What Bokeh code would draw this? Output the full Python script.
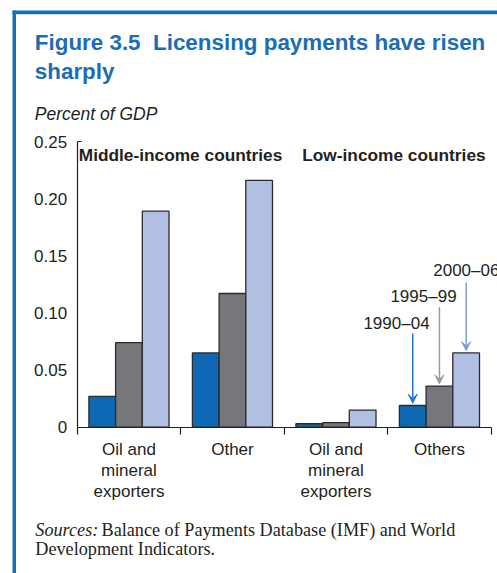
from bokeh.plotting import figure
from bokeh.models import (Range1d, FixedTicker, Label, Arrow, VeeHead, BoxAnnotation, LinearAxis)
from bokeh.embed import file_html
from bokeh.resources import INLINE

# ---- data ----
categories = ["Oil and\nmineral\nexporters", "Other", "Oil and\nmineral\nexporters", "Others"]
periods = ["1990\u201304", "1995\u201399", "2000\u201306"]
v1990 = [0.027, 0.065, 0.003, 0.019]
v1995 = [0.074, 0.117, 0.004, 0.036]
v2000 = [0.189, 0.216, 0.015, 0.065]
y_ticks = [0, 0.05, 0.10, 0.15, 0.20, 0.25]
y_tick_labels = ["0", "0.05", "0.10", "0.15", "0.20", "0.25"]
groups = ["Middle-income countries", "Low-income countries"]

colors = ["#0e68b3", "#76777b", "#b0bfe2"]
arrow_colors = ["#1f78c9", "#9b9b9b", "#7d9dd6"]
TITLE_BLUE = "#1b6db6"
TEXT = "#231f20"
SANS = "Liberation Sans"
SERIF = "Liberation Serif"

# ---- layout (pixels) ----
W, H = 497, 573
AX_LEFT, AX_RIGHT = 76.7, 490.7      # x = 0 and x = 4
AX_ZERO, AX_TOP = 426.7, 141.0       # y = 0 and y = 0.25
ppx = (AX_RIGHT - AX_LEFT) / len(categories)
ppy = (AX_ZERO - AX_TOP) / y_ticks[-1]

p = figure(width=W, height=H, output_backend="svg", toolbar_location=None,
           x_range=Range1d(-AX_LEFT / ppx, (W - AX_LEFT) / ppx),
           y_range=Range1d((AX_ZERO - H) / ppy, AX_ZERO / ppy),
           x_axis_location=None, y_axis_location=None,
           min_border=0)
p.outline_line_color = None
p.grid.visible = False

bw = 0.258
offsets = [-bw, 0.0, bw]
series = [v1990, v1995, v2000]
for k, vals in enumerate(series):
    xs = [i + 0.5 + offsets[k] for i in range(len(categories))]
    p.vbar(x=xs, top=vals, bottom=0, width=bw, fill_color=colors[k],
           line_color="#2b2b2b", line_width=1.3)

# y axis
ya = LinearAxis(fixed_location=0, bounds=(0, y_ticks[-1]),
                ticker=FixedTicker(ticks=y_ticks, minor_ticks=[y_ticks[-1]]))
ya.major_label_overrides = {t: l for t, l in zip(y_ticks, y_tick_labels)}
ya.major_tick_out = 0
ya.major_tick_in = 0
ya.minor_tick_out = 0
ya.minor_tick_in = 4
ya.minor_tick_line_color = TEXT
ya.minor_tick_line_width = 1.2
ya.axis_line_color = TEXT
ya.axis_line_width = 1.2
ya.major_label_text_font = SANS
ya.major_label_text_font_size = "17px"
ya.major_label_text_color = TEXT
ya.major_label_standoff = 10
p.add_layout(ya, "left")

# x axis
centers = [i + 0.5 for i in range(len(categories))]
xa = LinearAxis(fixed_location=0, bounds=(0, len(categories)),
                ticker=FixedTicker(ticks=centers, minor_ticks=list(range(len(categories) + 1))))
xa.major_label_overrides = {c: l for c, l in zip(centers, categories)}
xa.major_tick_out = 0
xa.major_tick_in = 0
xa.minor_tick_out = 7
xa.minor_tick_in = 0
xa.minor_tick_line_color = TEXT
xa.minor_tick_line_width = 1.2
xa.axis_line_color = TEXT
xa.axis_line_width = 1.2
xa.major_label_text_font = SANS
xa.major_label_text_font_size = "17px"
xa.major_label_text_color = TEXT
xa.major_label_text_line_height = 1.1
xa.major_label_standoff = 6
p.add_layout(xa, "below")

# group headings
p.add_layout(Label(x=0.015, y=0.2385, text=groups[0], text_font=SANS, text_font_size="17.3px",
                   text_font_style="bold", text_color=TEXT, text_baseline="middle"))
p.add_layout(Label(x=2.174, y=0.2385, text=groups[1], text_font=SANS, text_font_size="17.3px",
                   text_font_style="bold", text_color=TEXT, text_baseline="middle"))

# period annotations with arrows (last category)
lab_x = [3.085, 3.346, 3.44]
lab_y = [0.091, 0.1146, 0.137]
lab_align = ["center", "center", "left"]
arr_x = [3.5 + o for o in offsets]
arr_start = [0.082, 0.105, 0.1266]
for k in range(3):
    p.add_layout(Label(x=lab_x[k], y=lab_y[k], text=periods[k], text_font=SANS,
                       text_font_size="17px", text_color=TEXT, text_align=lab_align[k],
                       text_baseline="middle"))
    p.add_layout(Arrow(x_start=arr_x[k], y_start=arr_start[k], x_end=arr_x[k],
                       y_end=series[k][3] + 0.002, line_color=arrow_colors[k], line_width=1.5,
                       end=VeeHead(size=9, fill_color=arrow_colors[k],
                                   line_color=arrow_colors[k], line_width=1)))

# title, subtitle, sources (screen units, y measured up from the bottom)
X0 = 34.3
def sy(top_px):
    return H - top_px

texts = [
    ("Figure 3.5\u00a0\u00a0Licensing payments have risen", X0, 42.2, SANS, "22.4px", "bold", TITLE_BLUE),
    ("sharply", X0, 71.3, SANS, "22.4px", "bold", TITLE_BLUE),
    ("Percent of GDP", X0, 113.2, SANS, "17.5px", "italic", TEXT),
    ("Sources:", X0 + 0.5, 529.2, SERIF, "18.2px", "italic", TEXT),
    ("Balance of Payments Database (IMF) and World", 101, 529.2, SERIF, "18.2px", "normal", TEXT),
    ("Development Indicators.", X0 + 0.5, 548.6, SERIF, "18.2px", "normal", TEXT),
]
for t, x, y, f, s, st, c in texts:
    p.add_layout(Label(x=x, y=sy(y), x_units="screen", y_units="screen", text=t, text_font=f,
                       text_font_size=s, text_font_style=st, text_color=c,
                       text_baseline="middle"))

# blue panel border (left and top edges; the rest is cropped away)
p.add_layout(BoxAnnotation(left=12, right=15.5, top=sy(10), bottom=-20,
                           left_units="screen", right_units="screen",
                           top_units="screen", bottom_units="screen",
                           fill_color=TITLE_BLUE, fill_alpha=1, line_alpha=0, level="overlay"))
p.add_layout(BoxAnnotation(left=12, right=W + 20, top=sy(10), bottom=sy(13.8),
                           left_units="screen", right_units="screen",
                           top_units="screen", bottom_units="screen",
                           fill_color=TITLE_BLUE, fill_alpha=1, line_alpha=0, level="overlay"))

open("out.html", "w").write(file_html(p, INLINE))
